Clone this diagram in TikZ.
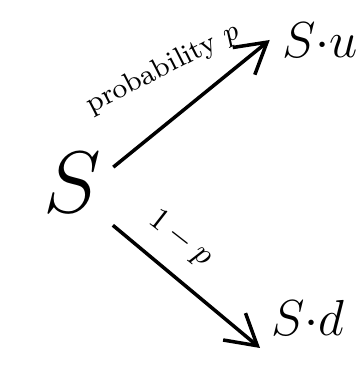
\documentclass[tikz,border=0pt]{standalone}
\usepackage{tikz}
\usetikzlibrary{arrows.meta,positioning}
\tikzset{
  branch/.style={line width=1pt, -{Straight Barb[length=3mm,width=3.5mm]}},
  prob/.style={font=\small}
}
\begin{document}
\begin{tikzpicture}
        \useasboundingbox (0,0) rectangle (3.62,3.68);
        % Stock today
        \node[font=\fontsize{26}{30}\selectfont] (s) at (0.72, 1.85) {$S$};
        % Up and down states
        \node[font=\Large] (su) at (3.20, 3.28) {$S{\cdot}u$};
        \node[font=\Large] (sd) at (3.08, 0.50) {$S{\cdot}d$};
        % Branches
        \draw[branch] (s.21) -- (su.west);
        \draw[branch] (s.-46) -- (sd.212);
        % Probabilities
        \node[prob, font=\footnotesize, rotate=27] (pup) at (1.63, 2.99) {probability $p$};
        \node[prob, rotate=-38] (pdown) at (1.80, 1.29) {$1-p$};
      \end{tikzpicture}
\end{document}
